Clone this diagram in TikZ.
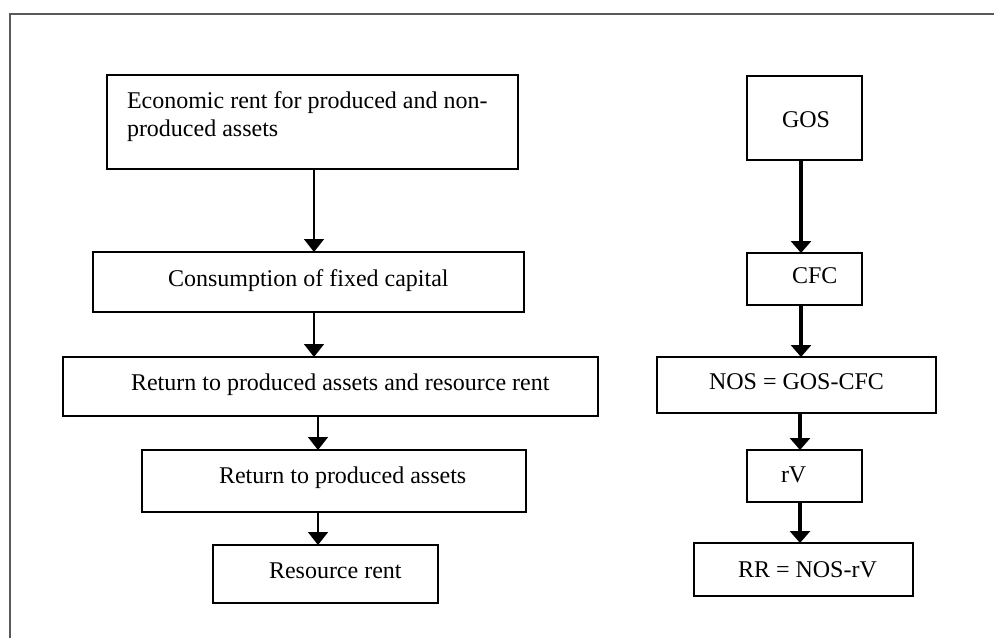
\documentclass[tikz,border=0pt]{standalone}
\usepackage{fontspec}
\setmainfont{Liberation Serif}
\usetikzlibrary{arrows.meta}
\begin{document}
\begin{tikzpicture}[x=1pt,y=-1pt,
  box/.style={draw=black,line width=1.4pt,inner sep=0pt,outer sep=0pt},
  txt/.style={inner sep=0pt,outer sep=0pt,anchor=base west,font=\fontsize{24}{28}\selectfont},
  thinflow/.style={line width=1.6pt,-{Triangle[width=20pt,length=13pt]}},
  boldflow/.style={line width=3.2pt,-{Triangle[width=20pt,length=12pt]}}]
\useasboundingbox (0,0) rectangle (994,638);
% outer frame (top and left edges)
\draw[draw=black!65,line width=1.5pt] (10,638) -- (10,14) -- (994,14);
% left chain
\node[box,minimum width=411pt,minimum height=94pt] (b1) at (312.5,122) {};
\node[box,minimum width=431pt,minimum height=60pt] (b2) at (308.5,282) {};
\node[box,minimum width=535pt,minimum height=59pt] (b3) at (330.5,386.5) {};
\node[box,minimum width=384pt,minimum height=62pt] (b4) at (334,481) {};
\node[box,minimum width=225pt,minimum height=58pt] (b5) at (325.5,574) {};
\node[txt,align=left] (t1) at (127,136) {Economic rent for produced and non-\\produced assets};
\node[txt] (t2) at (168,286) {Consumption of fixed capital};
\node[txt] (t3) at (131,390) {Return to produced assets and resource rent};
\node[txt] (t4) at (219,483) {Return to produced assets};
\node[txt] (t5) at (269,578) {Resource rent};
\draw[thinflow] (314,0 |- b1.south) -- (314,0 |- b2.north);
\draw[thinflow] (314,0 |- b2.south) -- (314,0 |- b3.north);
\draw[thinflow] (318,0 |- b3.south) -- (318,0 |- b4.north);
\draw[thinflow] (318,0 |- b4.south) -- (318,0 |- b5.north);
% right chain
\node[box,minimum width=115pt,minimum height=84pt] (g1) at (804.5,118) {};
\node[box,minimum width=115pt,minimum height=52pt] (g2) at (804.5,279) {};
\node[box,minimum width=279pt,minimum height=56pt] (g3) at (796.5,385) {};
\node[box,minimum width=115pt,minimum height=52pt] (g4) at (804.5,476) {};
\node[box,minimum width=219pt,minimum height=53pt] (g5) at (803.5,569.5) {};
\node[txt] (s1) at (782,127) {GOS};
\node[txt] (s2) at (792,283) {CFC};
\node[txt] (s3) at (709,389) {NOS = GOS-CFC};
\node[txt] (s4) at (781,482) {rV};
\node[txt] (s5) at (738,577) {RR = NOS-rV};
\draw[boldflow] (801,0 |- g1.south) -- (801,0 |- g2.north);
\draw[boldflow] (801,0 |- g2.south) -- (801,0 |- g3.north);
\draw[boldflow] (800,0 |- g3.south) -- (800,0 |- g4.north);
\draw[boldflow] (800,0 |- g4.south) -- (800,0 |- g5.north);
\end{tikzpicture}
\end{document}
